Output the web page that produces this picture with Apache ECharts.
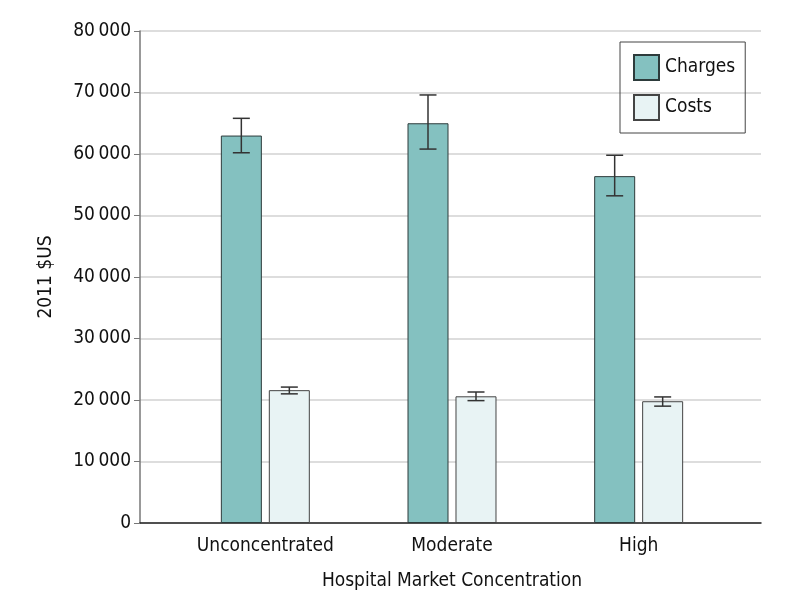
<!DOCTYPE html>
<html>
<head>
<meta charset="utf-8">
<script src="https://cdn.jsdelivr.net/npm/echarts@6/dist/echarts.min.js"></script>
<style>
  html, body { margin: 0; padding: 0; background: #fff; }
  #chart { width: 798px; height: 609px; }
</style>
</head>
<body>
<div id="chart"></div>
<script>
// data
var categories = ["Unconcentrated", "Moderate", "High"];
var charges = [63000, 65000, 56400];
var chargesLow = [60200, 60800, 53200];
var chargesHigh = [65800, 69600, 59800];
var costs = [21600, 20600, 19800];
var costsLow = [21000, 19900, 19000];
var costsHigh = [22100, 21300, 20500];

var font = "DejaVu Sans Condensed";
var chart = echarts.init(document.getElementById("chart"));

// error bar builder, offset = pixel shift from category centre
function errorSeries(name, low, high, offset) {
  return {
    type: "custom",
    name: name + " CI",
    xAxisIndex: 1,
    yAxisIndex: 1,
    z: 5,
    silent: true,
    data: categories.map(function (c, i) { return [i, low[i], high[i]]; }),
    renderItem: function (params, api) {
      var lo = api.coord([api.value(0), api.value(1)]);
      var hi = api.coord([api.value(0), api.value(2)]);
      var x = lo[0] + offset;
      var cap = 8.5;
      var st = { stroke: "#333", lineWidth: 1.5 };
      return {
        type: "group",
        children: [
          { type: "line", shape: { x1: x, y1: lo[1], x2: x, y2: hi[1] }, style: st },
          { type: "line", shape: { x1: x - cap, y1: lo[1], x2: x + cap, y2: lo[1] }, style: st },
          { type: "line", shape: { x1: x - cap, y1: hi[1], x2: x + cap, y2: hi[1] }, style: st }
        ]
      };
    }
  };
}

var option = {
  animation: false,
  textStyle: { fontFamily: font },
  legend: {
    data: ["Charges", "Costs"],
    orient: "vertical",
    left: 620,
    top: 42,
    padding: [12, 10, 12, 13],
    icon: "rect",
    itemWidth: 25,
    itemHeight: 25,
    itemGap: 13,
    borderColor: "#444",
    borderWidth: 1,
    selectedMode: false,
    textStyle: { fontFamily: font, fontSize: 19, color: "#111", padding: [0, 0, 0, 1] }
  },
  grid: [
    { left: 140, right: 37, top: 31, bottom: 86 },
    { left: 172, right: 66, top: 31, bottom: 86 }
  ],
  xAxis: [
    {
      gridIndex: 0,
      type: "category",
      data: categories,
      axisLine: { show: true, lineStyle: { color: "#222", width: 1.5 } },
      axisTick: { show: false },
      axisLabel: { show: false }
    },
    {
      gridIndex: 1,
      type: "category",
      data: categories,
      axisLine: { show: false },
      axisTick: { show: false },
      axisLabel: { fontFamily: font, fontSize: 19, color: "#111", margin: 14 },
      name: "Hospital Market Concentration",
      nameLocation: "middle",
      nameGap: 49,
      nameTextStyle: { fontFamily: font, fontSize: 19, color: "#111" }
    }
  ],
  yAxis: [
    {
      gridIndex: 0,
      type: "value",
      min: 0,
      max: 80000,
      interval: 10000,
      axisLine: { show: true, lineStyle: { color: "#777", width: 1.5 } },
      axisTick: { show: true, length: 6, lineStyle: { color: "#777" } },
      axisLabel: {
        fontFamily: font, fontSize: 19, color: "#111", margin: 9,
        formatter: function (v) {
          if (v === 0) return "0";
          var s = String(v);
          return s.slice(0, s.length - 3) + "\u2009" + s.slice(-3);
        }
      },
      splitLine: { show: true, lineStyle: { color: "#ddd", width: 2 } },
      name: "2011 $US",
      nameLocation: "middle",
      nameGap: 84,
      nameRotate: 90,
      nameTextStyle: { fontFamily: font, fontSize: 19, color: "#111" }
    },
    {
      gridIndex: 1,
      type: "value",
      min: 0,
      max: 80000,
      show: false
    }
  ],
  series: [
    {
      name: "Charges",
      type: "bar",
      xAxisIndex: 1,
      yAxisIndex: 1,
      data: charges,
      barWidth: 41,
      barGap: "17%",
      itemStyle: { color: "#84c1c0", borderColor: "#2d3b3b", borderWidth: 1 }
    },
    {
      name: "Costs",
      type: "bar",
      xAxisIndex: 1,
      yAxisIndex: 1,
      data: costs,
      barWidth: 41,
      barGap: "17%",
      itemStyle: { color: "#e8f3f4", borderColor: "#444", borderWidth: 1 }
    },
    errorSeries("Charges", chargesLow, chargesHigh, -24),
    errorSeries("Costs", costsLow, costsHigh, 24)
  ]
};

chart.setOption(option);
</script>
</body>
</html>
